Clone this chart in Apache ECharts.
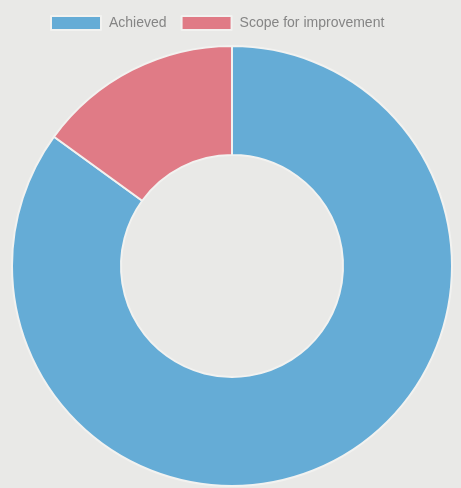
<!DOCTYPE html>
<html>
<head>
<meta charset="utf-8">
<script src="https://cdn.jsdelivr.net/npm/echarts@6/dist/echarts.min.js"></script>
<style>
  html, body { margin: 0; padding: 0; background: #e9e9e7; }
  #chart { width: 461px; height: 488px; }
</style>
</head>
<body>
<div id="chart"></div>
<script>
  const categories = ['Achieved', 'Scope for improvement']
  const values = [85, 15]
  const colors = ['#65acd6', '#e07b86']

  const chart = echarts.init(document.getElementById('chart'))
  chart.setOption({
    backgroundColor: '#e9e9e7',
    animation: false,
    color: colors,
    legend: {
      top: 10,
      left: 45,
      itemWidth: 50,
      itemHeight: 14,
      itemGap: 14,
      icon: 'rect',
      textStyle: { color: '#858585', fontSize: 14, fontFamily: 'Liberation Sans', padding: [0, 0, 0, 3] },
      data: categories,
    },
    series: [
      {
        type: 'pie',
        center: [232, 266],
        radius: [111, 220],
        startAngle: 90,
        clockwise: true,
        label: { show: false },
        labelLine: { show: false },
        itemStyle: { borderColor: '#f2f2f0', borderWidth: 2 },
        data: categories.map((name, i) => ({ name, value: values[i] })),
      },
    ],
  })
</script>
</body>
</html>
